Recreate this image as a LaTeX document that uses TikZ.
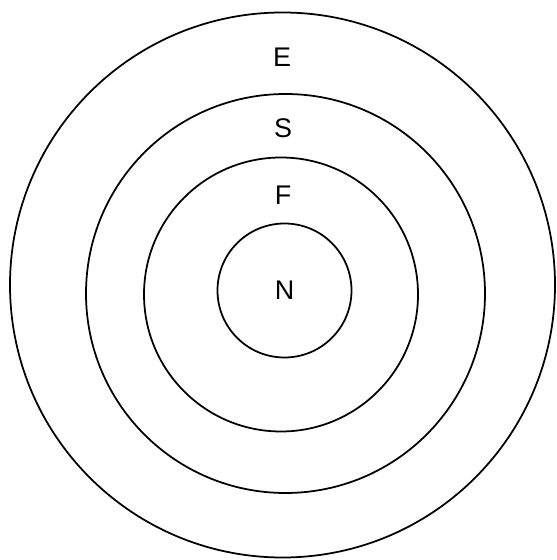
\documentclass[tikz,border=0pt]{standalone}
\usepackage{fontspec}
\setmainfont{Liberation Sans}
\usetikzlibrary{positioning}

\tikzset{
  ring/.style={circle,draw,line width=1.5pt,inner sep=0pt},
  lbl/.style={font=\fontsize{23}{27}\selectfont}
}

\begin{document}
\begin{tikzpicture}
    \useasboundingbox (0,0) rectangle (16.68,16.8);

    % concentric rings, outermost first
    \node[ring,minimum size=16.35cm] (ringE) at (8.475,8.25)  {};
    \node[ring,minimum size=11.97cm] (ringS) at (8.565,7.995) {};
    \node[ring,minimum size=8.22cm]  (ringF) at (8.43,7.965)  {};
    \node[ring,minimum size=4.02cm]  (ringN) at (8.535,8.085) {};

    \node[lbl] (E) at (8.46,15.09) {E};
    \node[lbl] (S) at (8.49,12.96) {S};
    \node[lbl] (F) at (8.49,10.95) {F};
    \node[lbl] (N) at (ringN)      {N};
\end{tikzpicture}
\end{document}
